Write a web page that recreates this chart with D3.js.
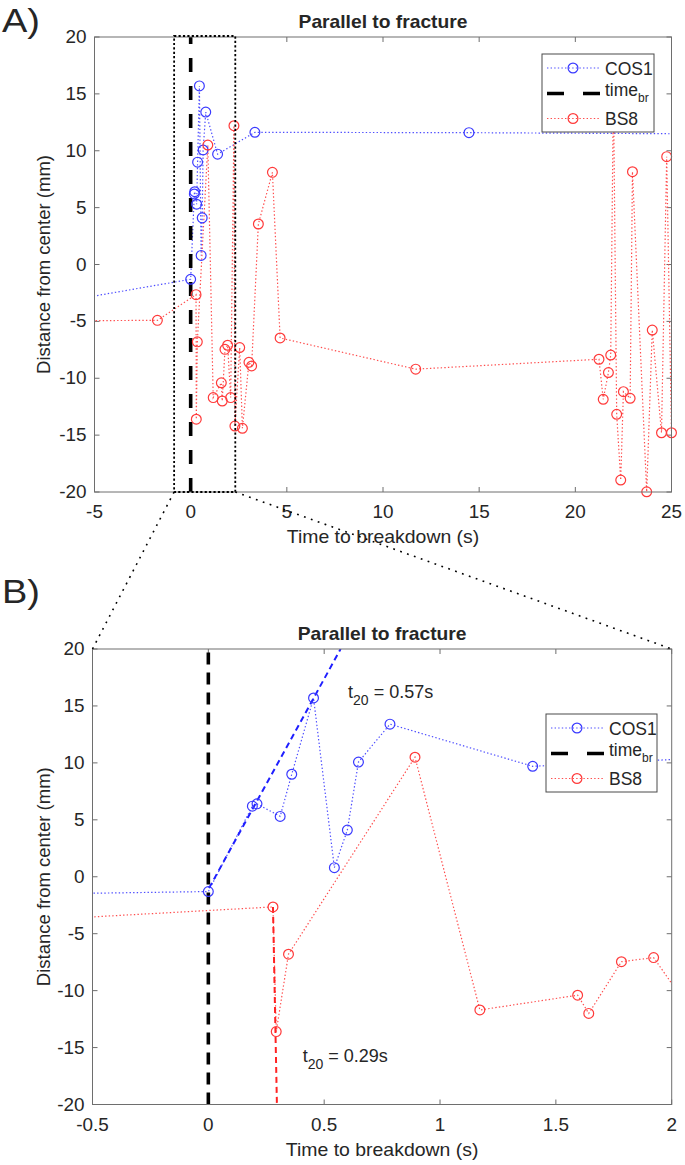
<!DOCTYPE html>
<html><head><meta charset="utf-8">
<script src="https://cdn.jsdelivr.net/npm/d3@7"></script>
<style>body{margin:0;background:#fff}svg{display:block}text{font-family:"Liberation Sans",Arial,Helvetica,sans-serif;fill:#262626}</style>
</head><body><svg id="c" width="685" height="1165"></svg>
<script>
// ---------- data ----------
const cosTime = [-8, 0, 0.19, 0.21, 0.31, 0.36, 0.454, 0.544, 0.60, 0.648, 0.784, 1.40, 3.34, 14.47, 30];
const cosDist = [-3.65, -1.3, 6.2, 6.4, 5.3, 9.0, 15.7, 0.8, 4.1, 10.07, 13.4, 9.7, 11.62, 11.59, 11.45];
const bsTime = [-10, -1.73, 0.279, 0.293, 0.346, 0.892, 1.172, 1.594, 1.642, 1.783, 1.922, 2.08, 2.25, 2.30, 2.55, 2.69, 3.03, 3.17, 3.52, 4.25, 4.65, 11.7, 21.23, 21.45, 21.72, 21.84, 21.98, 22.15, 22.36, 22.5, 22.85, 22.97, 23.71, 24.0, 24.48, 24.75, 25.0];
const bsDist = [-4.97, -4.91, -2.65, -13.6, -6.8, 10.5, -11.7, -10.4, -12.0, -7.46, -7.1, -11.7, 12.2, -14.2, -7.3, -14.4, -8.6, -8.92, 3.56, 8.1, -6.46, -9.2, -8.33, -11.85, -9.5, -7.96, 15.5, -13.17, -18.95, -11.18, -11.76, 8.16, -19.98, -5.76, -14.79, 9.48, -14.79];
const brTime = [0, 0];
const brDist = [-20, 20];
const fitCosTime = [0.003, 0.571];
const fitCosDist = [-1.0, 20];
const fitBsTime = [0.279, 0.296];
const fitBsDist = [-2.65, -20];
const xTicksA = [-5, 0, 5, 10, 15, 20, 25];
const xTicksB = [-0.5, 0, 0.5, 1, 1.5, 2];
const yTicks = [-20, -15, -10, -5, 0, 5, 10, 15, 20];
const zoomBoxTime = [-0.86, 2.32];
const annotTime = [0.603, 0.407];
const annotDist = [15.67, -16.28];
const annotValue = ["0.57s", "0.29s"];
const legendLabels = ["COS1", "time", "BS8"];
const titleText = "Parallel to fracture";
const xLabelText = "Time to breakdown (s)";
const yLabelText = "Distance from center (mm)";

// ---------- styles ----------
const BLUE_L = "#4d4dff", BLUE_M = "#3a3aff", RED_L = "#ff4d4d", RED_M = "#ff3a3a";
const AX = "#6e6e6e";
const svg = d3.select("#c");
svg.append("rect").attr("width", 685).attr("height", 1165).attr("fill", "#fff");

const toPts = (t, d) => t.map((v, i) => [v, d[i]]);
const cosPts = toPts(cosTime, cosDist), bsPts = toPts(bsTime, bsDist);
const MR = 4.9;

function txt(g, x, y, s, o = {}) {
  const t = g.append("text")
    .attr("transform", `translate(${x},${y})` + (o.rot ? ` rotate(${o.rot})` : "") + ` scale(${o.sx || 1},${o.sy || 1})`)
    .attr("font-size", o.size || 16).attr("text-anchor", o.anchor || "start");
  if (o.bold) t.attr("font-weight", "bold");
  t.text(s);
  return t;
}

function panel(cfg, idx) {
  const x = d3.scaleLinear().domain(cfg.xdom).range([cfg.x0, cfg.x1]);
  const y = d3.scaleLinear().domain([-20, 20]).range([cfg.y1, cfg.y0]);
  const g = svg.append("g");
  const cid = "clip" + idx;
  g.append("clipPath").attr("id", cid).append("rect")
    .attr("x", cfg.x0).attr("y", cfg.y0).attr("width", cfg.x1 - cfg.x0).attr("height", cfg.y1 - cfg.y0);

  // ticks
  const tl = 5;
  const tg = g.append("g").attr("stroke", AX).attr("stroke-width", 1);
  cfg.xticks.forEach(v => {
    const px = x(v);
    tg.append("line").attr("x1", px).attr("x2", px).attr("y1", cfg.y1).attr("y2", cfg.y1 - tl);
    tg.append("line").attr("x1", px).attr("x2", px).attr("y1", cfg.y0).attr("y2", cfg.y0 + tl);
    txt(g, px, cfg.y1 + 26, String(v), {size: 17.5, anchor: "middle", sx: 1.08});
  });
  yTicks.forEach(v => {
    const py = y(v);
    tg.append("line").attr("x1", cfg.x0).attr("x2", cfg.x0 + tl).attr("y1", py).attr("y2", py);
    tg.append("line").attr("x1", cfg.x1).attr("x2", cfg.x1 - tl).attr("y1", py).attr("y2", py);
    txt(g, cfg.x0 - 8, py + 6, String(v), {size: 17.5, anchor: "end", sx: 1.08});
  });

  const data = g.append("g").attr("clip-path", `url(#${cid})`);
  const line = d3.line().x(d => x(d[0])).y(d => y(d[1]));
  const inDom = d => d[0] >= cfg.xdom[0] && d[0] <= cfg.xdom[1] + 1e-9;

  // COS1
  data.append("path").attr("d", line(cosPts)).attr("fill", "none")
    .attr("stroke", BLUE_L).attr("stroke-width", 1.2).attr("stroke-dasharray", "1.4,2.2");
  g.append("g").selectAll("circle").data(cosPts.filter(inDom)).join("circle")
    .attr("cx", d => x(d[0])).attr("cy", d => y(d[1])).attr("r", MR)
    .attr("fill", "none").attr("stroke", BLUE_M).attr("stroke-width", 1.2);

  // time_br
  data.append("path").attr("d", line(toPts(brTime, brDist))).attr("fill", "none")
    .attr("stroke", "#000").attr("stroke-width", 3.6).attr("stroke-dasharray", cfg.brDash);

  // BS8
  data.append("path").attr("d", line(bsPts)).attr("fill", "none")
    .attr("stroke", RED_L).attr("stroke-width", 1.2).attr("stroke-dasharray", "1.4,2.2");
  g.append("g").selectAll("circle").data(bsPts.filter(inDom)).join("circle")
    .attr("cx", d => x(d[0])).attr("cy", d => y(d[1])).attr("r", MR)
    .attr("fill", "none").attr("stroke", RED_M).attr("stroke-width", 1.2);

  if (cfg.fits) {
    data.append("path").attr("d", line(toPts(fitCosTime, fitCosDist))).attr("fill", "none")
      .attr("stroke", "#1f1fff").attr("stroke-width", 2).attr("stroke-dasharray", "6,4");
    data.append("path").attr("d", line(toPts(fitBsTime, fitBsDist))).attr("fill", "none")
      .attr("stroke", "#ff2222").attr("stroke-width", 2).attr("stroke-dasharray", "6,4");
    annotTime.forEach((t, i) => {
      const ax = x(t), ay = y(annotDist[i]);
      const tt = g.append("text").attr("x", ax).attr("y", ay).attr("font-size", 18);
      tt.append("tspan").text("t");
      tt.append("tspan").attr("font-size", 14).attr("dy", 7).text("20");
      tt.append("tspan").attr("dy", -7).text(" = " + annotValue[i]);
    });
  }

  // axes box
  g.append("rect").attr("x", cfg.x0).attr("y", cfg.y0).attr("width", cfg.x1 - cfg.x0).attr("height", cfg.y1 - cfg.y0)
    .attr("fill", "none").attr("stroke", AX).attr("stroke-width", 1);

  // legend
  const L = cfg.legend;
  const lg = g.append("g");
  lg.append("rect").attr("x", L[0]).attr("y", L[1]).attr("width", L[2]).attr("height", L[3])
    .attr("fill", "#fff").attr("stroke", "#4a4a4a").attr("stroke-width", 1);
  const rows = [L[1] + 14, L[1] + 39.5, L[1] + 64.5];
  const sx0 = L[0] + 5, sx1 = L[0] + 58, mx = L[0] + 31, tx = L[0] + 63;
  [[BLUE_L, BLUE_M], null, [RED_L, RED_M]].forEach((c, i) => {
    if (c) {
      lg.append("line").attr("x1", sx0).attr("x2", sx1).attr("y1", rows[i]).attr("y2", rows[i])
        .attr("stroke", c[0]).attr("stroke-width", 1.2).attr("stroke-dasharray", "1.4,2.2");
      lg.append("circle").attr("cx", mx).attr("cy", rows[i]).attr("r", MR).attr("fill", "none")
        .attr("stroke", c[1]).attr("stroke-width", 1.2);
    } else {
      lg.append("line").attr("x1", sx0).attr("x2", sx1).attr("y1", rows[i]).attr("y2", rows[i])
        .attr("stroke", "#000").attr("stroke-width", 3.6).attr("stroke-dasharray", "17,19");
    }
  });
  legendLabels.forEach((s, i) => {
    const t = lg.append("text").attr("x", tx).attr("y", rows[i] + 6.5).attr("font-size", 17.5);
    t.append("tspan").text(s);
    if (i === 1) { t.attr("y", rows[i] + 2); t.append("tspan").attr("font-size", 12).attr("dy", 6).text("br"); }
  });

  // titles and labels
  const cx = (cfg.x0 + cfg.x1) / 2;
  txt(g, cx, cfg.y0 - 9, titleText, {size: 17.5, bold: true, anchor: "middle", sx: 1.1});
  txt(g, cx, cfg.y1 + 51, xLabelText, {size: 18, anchor: "middle", sx: 1.08});
  txt(g, 50, (cfg.y0 + cfg.y1) / 2, yLabelText, {size: 18.5, anchor: "middle", rot: -90});
  txt(g, 2, cfg.letterY, cfg.letter, {size: 33, sx: 1.15});
  return {x, y};
}

const A = panel({x0: 94.5, x1: 671.5, y0: 37, y1: 492, xdom: [-5, 25], xticks: xTicksA,
  legend: [542, 54, 112, 78], letter: "A)", letterY: 32, brDash: "14,14", fits: false}, 0);
const B = panel({x0: 92.5, x1: 671.7, y0: 649, y1: 1104.5, xdom: [-0.5, 2], xticks: xTicksB,
  legend: [546, 714, 111, 78], letter: "B)", letterY: 603, brDash: "12,8", fits: true}, 1);

// zoom box and connectors
const zx0 = A.x(zoomBoxTime[0]), zx1 = A.x(zoomBoxTime[1]);
const zy0 = A.y(20) - 1, zy1 = A.y(-20);
svg.append("rect").attr("x", zx0).attr("y", zy0).attr("width", zx1 - zx0).attr("height", zy1 - zy0)
  .attr("fill", "none").attr("stroke", "#000").attr("stroke-width", 1.8).attr("stroke-dasharray", "2.2,2.2");
svg.append("line").attr("x1", zx0).attr("y1", zy1).attr("x2", B.x(-0.5)).attr("y2", B.y(20))
  .attr("stroke", "#000").attr("stroke-width", 1.6).attr("stroke-dasharray", "1.8,5.5");
svg.append("line").attr("x1", zx1).attr("y1", zy1).attr("x2", B.x(2)).attr("y2", B.y(20))
  .attr("stroke", "#000").attr("stroke-width", 1.6).attr("stroke-dasharray", "1.8,5.5");
</script></body></html>
